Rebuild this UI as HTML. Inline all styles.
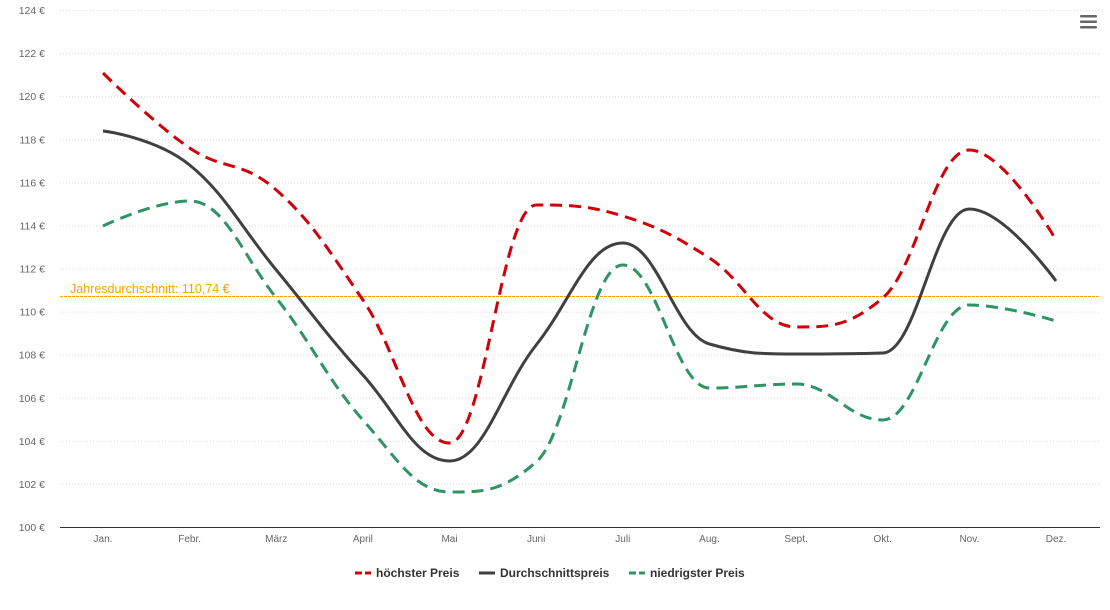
<!DOCTYPE html>
<html><head><meta charset="utf-8"><style>
body{margin:0;background:#fff;font-family:"Liberation Sans","DejaVu Sans",sans-serif;}
svg text{font-family:"Liberation Sans","DejaVu Sans",sans-serif;}
</style></head><body>
<svg id="c" width="1110" height="605" xmlns="http://www.w3.org/2000/svg">
<g id="grid" stroke="#d8d8d8" stroke-width="1" stroke-dasharray="1,2"></g>
<g id="ylab" font-size="10.5" fill="#666" text-anchor="end"></g>
<line x1="60" y1="527.5" x2="1100" y2="527.5" stroke="#333" stroke-width="1"/>
<g id="xlab" font-size="10" fill="#666" text-anchor="middle"></g>
<line x1="60" y1="296.5" x2="1100" y2="296.5" stroke="#f5a300" stroke-width="1" stroke-dasharray="3,1"/>
<text x="70" y="293" font-size="12.5" fill="#f5a300">Jahresdurchschnitt: 110,74 €</text>
<path id="pl" fill="none" stroke="#2e9464" stroke-width="3" stroke-dasharray="12,7"/>
<path id="pa" fill="none" stroke="#404040" stroke-width="3"/>
<path id="ph" fill="none" stroke="#d0000a" stroke-width="3" stroke-dasharray="12,7"/>
<g fill="#666"><rect x="1080" y="15" width="17" height="2.5" rx="1"/><rect x="1080" y="20.5" width="17" height="2.5" rx="1"/><rect x="1080" y="26" width="17" height="2.5" rx="1"/></g>
<g font-size="12" font-weight="bold" fill="#333">
<line x1="355" y1="573" x2="371" y2="573" stroke="#d0000a" stroke-width="3" stroke-dasharray="7,3"/>
<text x="376" y="577">höchster Preis</text>
<line x1="479" y1="573" x2="495" y2="573" stroke="#404040" stroke-width="3"/>
<text x="500" y="577">Durchschnittspreis</text>
<line x1="629" y1="573" x2="645" y2="573" stroke="#2e9464" stroke-width="3" stroke-dasharray="7,3"/>
<text x="650" y="577">niedrigster Preis</text>
</g>
</svg>
<script>
var g=document.getElementById('grid'),yl=document.getElementById('ylab'),xl=document.getElementById('xlab');
var NS='http://www.w3.org/2000/svg';
function el(t,a,p,txt){var e=document.createElementNS(NS,t);for(var k in a)e.setAttribute(k,a[k]);if(txt)e.textContent=txt;p.appendChild(e);}
for(var i=0;i<=12;i++){var y=527-i*517/12;if(i>0)el('line',{x1:60,x2:1100,y1:y+.5,y2:y+.5},g);el('text',{x:45,y:y+4},yl,(100+2*i)+' €');}
var m=['Jan.','Febr.','März','April','Mai','Juni','Juli','Aug.','Sept.','Okt.','Nov.','Dez.'];
var X=m.map(function(_,i){return 103+i*953/11;});
m.forEach(function(t,i){el('text',{x:X[i],y:542},xl,t);});
function path(Y){var pts=X.map(function(x,i){return [x,Y[i]];});var d='M'+pts[0][0]+','+pts[0][1];
var ctl=[];for(var i=0;i<pts.length;i++){var p=pts[i],a=pts[i-1],b=pts[i+1];if(!a||!b){ctl.push(null);continue;}
var lx=(1.5*p[0]+a[0])/2.5,ly=(1.5*p[1]+a[1])/2.5,rx=(1.5*p[0]+b[0])/2.5,ry=(1.5*p[1]+b[1])/2.5;
var c=((ry-ly)*(rx-p[0]))/(rx-lx)+p[1]-ry;ly+=c;ry+=c;
if(ly>Math.max(a[1],p[1])){ly=Math.max(a[1],p[1]);ry=2*p[1]-ly;}else if(ly<Math.min(a[1],p[1])){ly=Math.min(a[1],p[1]);ry=2*p[1]-ly;}
if(ry>Math.max(b[1],p[1])){ry=Math.max(b[1],p[1]);ly=2*p[1]-ry;}else if(ry<Math.min(b[1],p[1])){ry=Math.min(b[1],p[1]);ly=2*p[1]-ry;}
ctl.push([lx,ly,rx,ry]);}
for(var i=1;i<pts.length;i++){var s=ctl[i-1],e=ctl[i];var c1=s?[s[2],s[3]]:pts[i-1],c2=e?[e[0],e[1]]:pts[i];
d+=' C'+c1[0]+','+c1[1]+' '+c2[0]+','+c2[1]+' '+pts[i][0]+','+pts[i][1];}return d;}
document.getElementById('ph').setAttribute('d',path([73,148,190,300,443,205,216,258,327,298,150,240]));
document.getElementById('pa').setAttribute('d',path([131,165,270,375,461,345,243,344,354,353,209,281]));
document.getElementById('pl').setAttribute('d',path([226,201,298,420,492,462,265,388,384,420,305,321]));
</script>
</body></html>
